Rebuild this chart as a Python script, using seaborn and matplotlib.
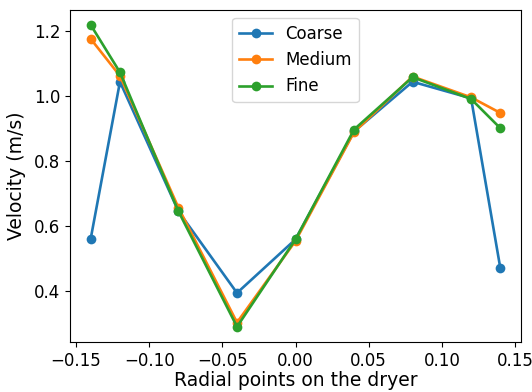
import matplotlib
matplotlib.use("Agg")
import matplotlib.pyplot as plt
import pandas as pd
import seaborn as sns

# Radial measurement positions across the dryer (m)
radial_points = [-0.14, -0.12, -0.08, -0.04, 0.0, 0.04, 0.08, 0.12, 0.14]

# Velocity at each radial point for the three mesh resolutions (m/s)
coarse = [0.560, 1.043, 0.644, 0.393, 0.558, 0.890, 1.043, 0.992, 0.469]
medium = [1.175, 1.061, 0.655, 0.302, 0.553, 0.888, 1.059, 0.995, 0.947]
fine = [1.218, 1.072, 0.644, 0.289, 0.558, 0.896, 1.057, 0.990, 0.900]

mesh_names = ["Coarse", "Medium", "Fine"]

frames = []
for name, vals in zip(mesh_names, [coarse, medium, fine]):
    frames.append(pd.DataFrame({"x": radial_points, "v": vals, "mesh": name}))
df = pd.concat(frames, ignore_index=True)

fig, ax = plt.subplots(figsize=(5.32, 3.92), dpi=100)
sns.lineplot(
    data=df, x="x", y="v", hue="mesh", hue_order=mesh_names,
    palette=["#1f77b4", "#ff7f0e", "#2ca02c"],
    marker="o", markersize=7, markeredgewidth=0, linewidth=1.9,
    ax=ax, sort=False,
)
ax.set_xlabel("Radial points on the dryer", fontsize=13.5, labelpad=1)
ax.set_ylabel("Velocity (m/s)", fontsize=13.5, labelpad=6)
ax.tick_params(labelsize=12)
ax.set_yticks([0.4, 0.6, 0.8, 1.0, 1.2])
ax.set_xticks([-0.15, -0.10, -0.05, 0.0, 0.05, 0.10, 0.15])
ax.set_xticklabels(["\u22120.15", "\u22120.10", "\u22120.05", "0.00", "0.05", "0.10", "0.15"])
ax.legend(loc="upper center", fontsize=12, title=None)

fig.subplots_adjust(left=0.132, right=0.979, top=0.975, bottom=0.128)
fig.savefig("out.png", dpi=100)
